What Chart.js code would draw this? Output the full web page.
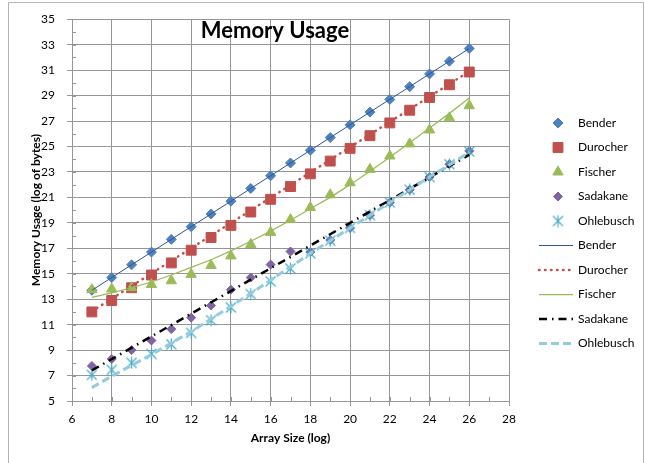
<!DOCTYPE html>
<html>
<head>
<meta charset="utf-8">
<script src="https://cdn.jsdelivr.net/npm/chart.js@4.4.1/dist/chart.umd.min.js"></script>
<style>
  html, body { margin: 0; padding: 0; background: #fff; }
  #wrap { width: 645px; height: 463px; }
</style>
</head>
<body>
<div id="wrap"><canvas id="memChart" width="645" height="463"></canvas></div>
<script>
// values (log2 of bytes vs log2 of array size)
const arraySize = [7, 8, 9, 10, 11, 12, 13, 14, 15, 16, 17, 18, 19, 20, 21, 22, 23, 24, 25, 26];
const bender    = [13.7, 14.7, 15.7, 16.7, 17.7, 18.7, 19.7, 20.7, 21.7, 22.7, 23.7, 24.7, 25.7, 26.7, 27.7, 28.7, 29.7, 30.7, 31.7, 32.7];
const durocher  = [12.0, 12.9, 13.9, 14.9, 15.85, 16.85, 17.85, 18.8, 19.85, 20.85, 21.85, 22.85, 23.85, 24.85, 25.85, 26.85, 27.85, 28.85, 29.85, 30.85];
const fischer   = [13.75, 13.8, 13.9, 14.15, 14.45, 14.95, 15.65, 16.4, 17.3, 18.25, 19.25, 20.2, 21.2, 22.15, 23.2, 24.25, 25.2, 26.3, 27.25, 28.2];
const sadakane  = [7.75, 8.3, 9.0, 9.75, 10.65, 11.55, 12.5, 13.75, 14.7, 15.72, 16.75, 16.7, 17.65, 18.6, 19.6, 20.6, 21.6, 22.6, 23.6, 24.65];
const ohlebusch = [7.05, 7.45, 8.0, 8.7, 9.45, 10.35, 11.35, 12.35, 13.4, 14.4, 15.4, 16.6, 17.6, 18.6, 19.6, 20.6, 21.6, 22.6, 23.6, 24.6];

// trendlines
const linEnds       = [7, 26];
const benderTrend   = [13.7, 32.7];
const durocherTrend = [12.05, 30.9];
const sadakaneTrend = [7.4, 24.35];
const fischerTrend  = [13.15, 13.5, 13.9, 14.35, 14.9, 15.5, 16.1, 16.8, 17.55, 18.35, 19.2, 20.1, 21.0, 22.0, 23.05, 24.15, 25.3, 26.45, 27.6, 28.8];
const ohlTrend      = [6.05, 6.95, 7.8, 8.65, 9.55, 10.45, 11.45, 12.45, 13.45, 14.5, 15.55, 16.6, 17.6, 18.6, 19.6, 20.6, 21.6, 22.6, 23.55, 24.55];

const xTicks = [6, 28];
const yTicks = [5, 35];

const gridGray = '#969696';
const fontFam = 'Lato, "Liberation Sans", sans-serif';

function pts(xs, ys) {
  return xs.map((x, i) => ({ x: x, y: ys[i] }));
}

// excel style star marker: an X with a vertical bar
let starImg = document.createElement('canvas');
starImg.width = 13;
starImg.height = 13;
let sctx = starImg.getContext('2d');
sctx.strokeStyle = '#4BACC6';
sctx.lineWidth = 1.2;
sctx.beginPath();
sctx.moveTo(1.5, 1.5); sctx.lineTo(11.5, 11.5);
sctx.moveTo(11.5, 1.5); sctx.lineTo(1.5, 11.5);
sctx.moveTo(6.5, 0.5); sctx.lineTo(6.5, 12.5);
sctx.stroke();

function markerSet(label, ys, color, style, radius, order) {
  return {
    label: label, data: pts(arraySize, ys), showLine: false,
    pointStyle: style, pointRadius: radius, pointHoverRadius: radius,
    backgroundColor: color, borderColor: color, pointBorderWidth: 1,
    order: order
  };
}
function trendSet(label, xs, ys, color, width, dash, cap, order) {
  return {
    label: label, data: pts(xs, ys), showLine: true, pointRadius: 0,
    borderColor: color, backgroundColor: color, borderWidth: width,
    borderDash: dash, borderCapStyle: cap, tension: 0, fill: false,
    order: order
  };
}

const datasets = [
  markerSet('Bender', bender, '#4F81BD', 'rectRot', 5, 5),
  markerSet('Durocher', durocher, '#C0504D', 'rect', 7, 4),
  markerSet('Fischer', fischer, '#9BBB59', 'triangle', 6, 3),
  markerSet('Sadakane', sadakane, '#8064A2', 'rectRot', 4.5, 2),
  markerSet('Ohlebusch', ohlebusch, '#4BACC6', starImg, 6, 1),
  trendSet('Bender', linEnds, benderTrend, '#2F5597', 1, [], 'butt', -1),
  trendSet('Durocher', linEnds, durocherTrend, '#C0504D', 2.5, [0.5, 5.5], 'round', -2),
  trendSet('Fischer', arraySize, fischerTrend, '#9BBB59', 1.25, [], 'butt', -3),
  trendSet('Sadakane', linEnds, sadakaneTrend, '#000000', 2.5, [8, 5, 1.5, 5], 'butt', -4),
  trendSet('Ohlebusch', arraySize, ohlTrend, '#93CDDD', 3, [8, 4], 'butt', -5)
];

// legend rows, drawn by hand so the line samples keep their dashes
const legendRows = [123, 147.5, 172, 196.5, 221, 245.5, 270, 294.5, 319, 343.5];

const extras = {
  id: 'extras',
  afterDraw(chart) {
    const ctx = chart.ctx;
    const xs = chart.scales.x;
    const ys = chart.scales.y;
    ctx.save();
    // minor / inner tick marks
    ctx.strokeStyle = gridGray;
    ctx.lineWidth = 1;
    ctx.beginPath();
    for (let v = yTicks[0]; v <= yTicks[1]; v++) {
      let py = Math.round(ys.getPixelForValue(v)) + 0.5;
      ctx.moveTo(xs.left, py);
      ctx.lineTo(xs.left + 4, py);
    }
    for (let v = xTicks[0]; v <= xTicks[1]; v++) {
      let px = Math.round(xs.getPixelForValue(v)) + 0.5;
      ctx.moveTo(px, ys.bottom);
      ctx.lineTo(px, ys.bottom - 4);
    }
    ctx.stroke();

    // title inside the plot
    ctx.fillStyle = '#000';
    ctx.font = 'bold 22px ' + fontFam;
    ctx.textAlign = 'center';
    ctx.textBaseline = 'middle';
    ctx.fillText('Memory Usage', 275, 31);

    // legend
    ctx.font = '12px ' + fontFam;
    ctx.textAlign = 'left';
    chart.data.datasets.forEach((ds, i) => {
      const y = legendRows[i];
      if (!ds.showLine) {
        ctx.fillStyle = ds.backgroundColor;
        ctx.strokeStyle = ds.borderColor;
        ctx.lineWidth = 1;
        Chart.helpers.drawPoint(ctx, { pointStyle: ds.pointStyle, radius: ds.pointRadius, rotation: 0, borderWidth: 1 }, 558, y);
      } else {
        ctx.strokeStyle = ds.borderColor;
        ctx.lineWidth = ds.borderWidth;
        ctx.lineCap = ds.borderCapStyle;
        ctx.setLineDash(ds.borderDash);
        ctx.beginPath();
        ctx.moveTo(539, y);
        ctx.lineTo(573, y);
        ctx.stroke();
        ctx.setLineDash([]);
        ctx.lineCap = 'butt';
      }
      ctx.fillStyle = '#000';
      ctx.fillText(ds.label, 578, y);
    });

    // chart border
    ctx.strokeStyle = '#b4b4b4';
    ctx.lineWidth = 1;
    ctx.beginPath();
    ctx.moveTo(8.5, 470);
    ctx.lineTo(8.5, 2.5);
    ctx.lineTo(643.5, 2.5);
    ctx.lineTo(643.5, 470);
    ctx.stroke();
    ctx.restore();
  }
};

new Chart(document.getElementById('memChart'), {
  type: 'scatter',
  data: { datasets: datasets },
  plugins: [extras],
  options: {
    responsive: false,
    animation: false,
    devicePixelRatio: 1,
    layout: { padding: { left: 8, right: 136, top: 18, bottom: 0 } },
    plugins: {
      legend: { display: false },
      tooltip: { enabled: false }
    },
    scales: {
      x: {
        type: 'linear', min: xTicks[0], max: xTicks[1],
        afterFit: s => { s.height = 62; },
        ticks: {
          stepSize: 1, autoSkip: false, maxRotation: 0, padding: 6,
          color: '#000', font: { family: fontFam, size: 12 },
          callback: v => (v % 2 === 0 ? v : '')
        },
        grid: {
          color: c => (c.tick && c.tick.value % 2 === 0 ? gridGray : 'rgba(0,0,0,0)'),
          tickColor: c => (c.tick && c.tick.value % 2 === 0 ? gridGray : 'rgba(0,0,0,0)'),
          tickLength: 5, lineWidth: 1
        },
        border: { color: gridGray },
        title: {
          display: true, text: 'Array Size (log)', color: '#000',
          font: { family: fontFam, size: 12, weight: 'bold' },
          padding: { top: 18, bottom: 18 }
        }
      },
      y: {
        type: 'linear', min: yTicks[0], max: yTicks[1],
        afterFit: s => { s.width = 64; },
        ticks: {
          stepSize: 1, autoSkip: false, padding: 12,
          color: '#000', font: { family: fontFam, size: 12 },
          callback: v => (Math.abs(v % 2) === 1 ? v : '')
        },
        grid: {
          color: c => (c.tick && Math.abs(c.tick.value % 2) === 1 ? gridGray : 'rgba(0,0,0,0)'),
          tickColor: c => (c.tick && Math.abs(c.tick.value % 2) === 1 ? gridGray : 'rgba(0,0,0,0)'),
          tickLength: 5, lineWidth: 1
        },
        border: { color: gridGray },
        title: {
          display: true, text: 'Memory Usage (log of bytes)', color: '#000',
          font: { family: fontFam, size: 12, weight: 'bold' },
          padding: { top: 21, bottom: 0 }
        }
      }
    }
  }
});
</script>
</body>
</html>
